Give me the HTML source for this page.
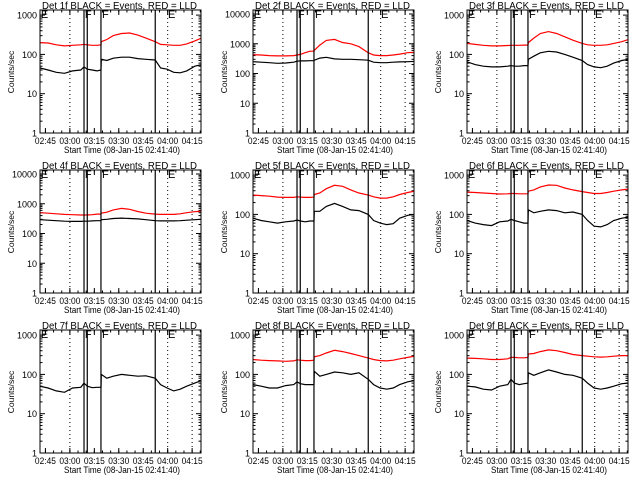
<!DOCTYPE html>
<html><head><meta charset="utf-8"><style>
body{margin:0;background:#fff}
svg{display:block}
text{font-family:"Liberation Sans",sans-serif;fill:#000}
</style></head><body>
<svg id="c" width="640" height="480" viewBox="0 0 640 480"></svg>
<script>
// times in minutes from start 02:41:40
const times=[0,5,10,15,20,25,27,29,32,35,37.4,37.6,41,45,50,55,60,65,70.7,74,78,82,86,90,95,99];
const detNames=["1f","2f","3f","4f","5f","6f","7f","8f","9f"];
const yMaxDecade=[3,4,3,4,3,3,3,3,3];
const black1=[45,40,35,33,38,40,48,42,40,38,40,75,70,80,85,85,78,75,72,45,42,35,34,38,50,55];
const red1=[200,195,175,165,170,175,180,175,170,170,175,210,240,300,340,350,310,260,210,180,175,170,170,185,220,260];
const black2=[250,240,230,220,225,240,260,265,265,270,270,280,330,350,310,300,300,290,280,240,230,230,240,245,250,255];
const red2=[430,420,400,390,390,400,420,440,500,560,560,600,900,1300,1400,1100,1000,800,500,420,400,400,420,450,500,520];
const black3=[65,55,50,48,48,50,52,50,50,52,52,75,90,110,120,115,100,85,70,55,48,46,50,60,70,75];
const red3=[190,180,170,165,165,168,170,170,170,172,172,200,260,340,380,340,280,230,190,175,170,170,175,190,210,240];
const black4=[290,280,270,260,255,255,260,260,265,270,270,290,300,320,330,320,310,290,270,265,265,265,270,280,290,300];
const red4=[500,480,460,440,430,420,420,420,430,450,450,480,520,620,700,650,550,480,450,440,440,440,460,500,540,560];
const black5=[80,70,65,60,65,68,72,68,65,68,68,120,120,160,190,160,130,125,100,70,60,55,58,80,95,100];
const red5=[310,300,290,275,270,270,280,275,270,270,275,320,350,450,550,520,420,350,310,280,260,260,280,320,360,390];
const black6=[70,60,55,52,65,68,75,70,65,60,60,130,110,120,130,125,110,115,100,70,50,48,55,70,80,85];
const red6=[370,360,350,340,330,335,340,340,335,335,335,390,420,500,560,550,470,420,380,360,340,340,360,390,420,440];
const black7=[50,45,38,35,45,47,60,50,46,47,47,100,80,90,100,95,90,92,80,55,45,38,42,50,60,70];
const red7=[1400,1400,1400,1400,1400,1400,1400,1400,1400,1400,1400,1400,1400,1400,1400,1400,1400,1400,1400,1400,1400,1400,1400,1400,1400,1400];
const black8=[55,50,45,45,52,55,65,58,55,55,55,120,90,100,115,110,100,110,75,55,45,42,45,55,65,70];
const red8=[240,230,225,220,215,220,235,230,225,225,230,280,300,350,410,380,340,300,260,240,225,220,230,250,270,290];
const black9=[50,48,42,40,50,55,75,60,55,58,60,110,95,110,130,115,100,95,80,60,45,42,45,50,58,60];
const red9=[260,255,250,240,240,250,270,270,265,265,270,330,340,380,420,400,360,320,300,290,280,275,280,290,300,300];
const blacks=[black1,black2,black3,black4,black5,black6,black7,black8,black9];
const reds=[red1,red2,red3,red4,red5,red6,red7,red8,red9];
const xTickLabels=["02:45","03:00","03:15","03:30","03:45","04:00","04:15"];
const xTickTimes=[3.33,18.33,33.33,48.33,63.33,78.33,93.33];
const dottedTimes=[18.33,78.33,93.33];
const eventTimes=[27,29,37.4,70.7];
const eventLabels=[["E",0.5],["F",27.5],["F",38],["E",78.5]];

const NS="http://www.w3.org/2000/svg";
const svg=document.getElementById('c');
function mk(tag,attrs,parent){const e=document.createElementNS(NS,tag);for(const k in attrs)e.setAttribute(k,attrs[k]);(parent||svg).appendChild(e);return e;}

for(let p=0;p<9;p++){
  const ox=Math.round((p%3)*213.33), oy=Math.floor(p/3)*160;
  const g=mk('g',{transform:`translate(${ox},${oy})`});
  
  
  const L=40,R=201,T=10,B=133;
  const xs=t=>L+t*1.63;
  const dec=yMaxDecade[p];
  const step=dec===3?39.3:29.75;
  const ys=v=>B-Math.log10(Math.max(v,1))*step;
  const clip=mk('clipPath',{id:'cl'+p},g);
  mk('rect',{x:L,y:T,width:R-L,height:B-T},clip);
  const tt=mk('text',{x:42,y:9,'font-size':'10',textLength:'155',lengthAdjust:'spacingAndGlyphs'},g);
  tt.textContent=`Det ${detNames[p]} BLACK = Events, RED = LLD`;
  
  
  for(let d=0;d<=dec;d++){
    const y=ys(Math.pow(10,d));
    mk('line',{x1:L,x2:L+5,y1:y,y2:y,stroke:'#000'},g);
    mk('line',{x1:R-5,x2:R,y1:y,y2:y,stroke:'#000'},g);
    const lb=mk('text',{x:L-3,y:y+3.5,'text-anchor':'end','font-size':'9'},g);
    lb.textContent=String(Math.pow(10,d));
    
    
    if(d<dec)for(let m=2;m<10;m++){const ym=ys(m*Math.pow(10,d));
      mk('line',{x1:L,x2:L+2.5,y1:ym,y2:ym,stroke:'#000'},g);
      mk('line',{x1:R-2.5,x2:R,y1:ym,y2:ym,stroke:'#000'},g);}
  }
  for(let i=0;i<xTickTimes.length;i++){
    const x=xs(xTickTimes[i]);
    mk('line',{x1:x,x2:x,y1:B,y2:B-5,stroke:'#000'},g);
    mk('line',{x1:x,x2:x,y1:T,y2:T+5,stroke:'#000'},g);
    const lb=mk('text',{x:x-10.5,y:B+11,'font-size':'9',textLength:'21',lengthAdjust:'spacingAndGlyphs'},g);
    lb.textContent=xTickLabels[i];
    
    
  }
  for(let t=3.33;t<99;t+=5){const x=xs(t);
    mk('line',{x1:x,x2:x,y1:B,y2:B-2.5,stroke:'#000'},g);
    mk('line',{x1:x,x2:x,y1:T,y2:T+2.5,stroke:'#000'},g);}
  const xt=mk('text',{x:64,y:153,'font-size':'9.5',textLength:'116',lengthAdjust:'spacingAndGlyphs'},g);
  xt.textContent='Start Time (08-Jan-15 02:41:40)';
  
  
  const yt=mk('text',{x:0,y:0,'text-anchor':'middle','font-size':'8.5',transform:'translate(14,72) rotate(-90)'},g);
  yt.textContent='Counts/sec';
  
  
  dottedTimes.forEach(t=>{const x=xs(t);mk('line',{x1:x,x2:x,y1:T,y2:B,stroke:'#000','stroke-dasharray':'1,3'},g);});
  const path=arr=>arr.map((v,i)=>(i?'L':'M')+xs(times[i]).toFixed(1)+','+ys(v).toFixed(1)).join('');
  const rp=mk('path',{d:path(reds[p]),fill:'none',stroke:'#ff0000','stroke-width':'1.2','clip-path':`url(#cl${p})`},g);
  
  
  const bp=mk('path',{d:path(blacks[p]),fill:'none',stroke:'#000','stroke-width':'1.2','clip-path':`url(#cl${p})`},g);
  
  
  eventTimes.forEach(t=>{const x=xs(t);mk('line',{x1:x,x2:x,y1:T,y2:B,stroke:'#000','stroke-width':'1.2'},g);});
  eventLabels.forEach(([s,t])=>{const e=mk('text',{x:xs(t),y:T+8,'font-size':'11'},g);e.textContent=s;
    
    });
  mk('rect',{x:L,y:T,width:R-L,height:B-T,fill:'none',stroke:'#000','stroke-width':'1'},g);
}
</script>
</body></html>
